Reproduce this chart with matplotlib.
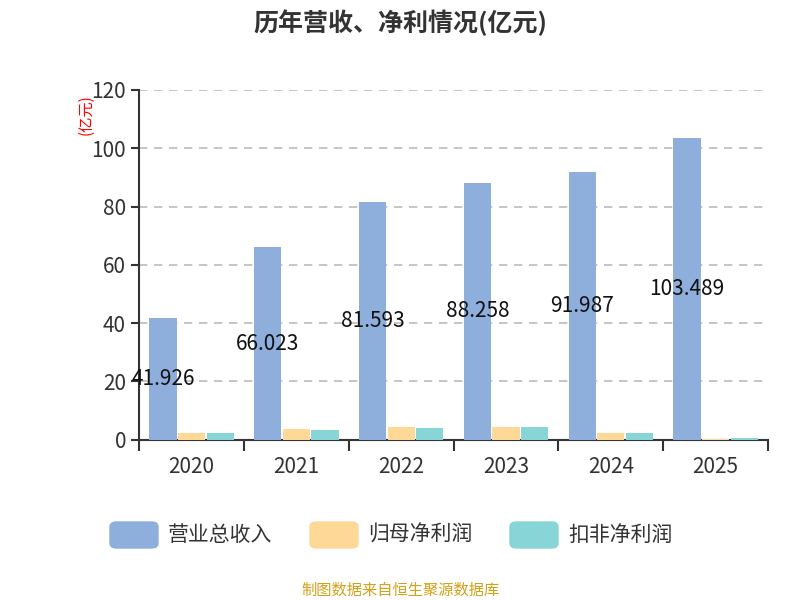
import matplotlib
matplotlib.use('Agg')
import matplotlib.pyplot as plt
import numpy as np

plt.rcParams['font.family'] = ['Noto Sans CJK SC', 'DejaVu Sans']

years = ['2020', '2021', '2022', '2023', '2024', '2025']
revenue = [41.926, 66.023, 81.593, 88.258, 91.987, 103.489]
net_profit = [2.4, 3.7, 4.3, 4.4, 2.4, 0.3]
deducted_profit = [2.3, 3.5, 4.2, 4.3, 2.3, 0.7]

fig = plt.figure(figsize=(8, 6), dpi=100)
ax = fig.add_axes([0.174, 0.267, 0.786, 0.583])
x = np.arange(len(years))
w = 0.26
ax.bar(x - w*1.05, revenue, w, color='#8eaedb', zorder=3)
ax.bar(x, net_profit, w, color='#fed897', zorder=3)
ax.bar(x + w*1.05, deducted_profit, w, color='#88d5d8', zorder=3)
for xi, v in zip(x, revenue):
    ax.text(xi - w*1.05, v/2, f'{v:.3f}', ha='center', va='center', fontsize=15, color='#111111', zorder=4)

ax.set_xlim(-0.5, 5.5)
ax.set_ylim(0, 120)
ax.set_yticks(range(0, 121, 20))
ax.set_xticks(x)
ax.set_xticklabels(years)
ax.set_xticks(np.arange(-0.5, 6, 1), minor=True)
ax.tick_params(axis='x', which='major', length=0, labelsize=15, colors='#333333', pad=12)
ax.tick_params(axis='x', which='minor', length=8, width=1.5, color='#333333')
ax.tick_params(axis='y', labelsize=15, colors='#333333', length=6, width=1.5)
for s in ['top', 'right']:
    ax.spines[s].set_visible(False)
for s in ['left', 'bottom']:
    ax.spines[s].set_color('#333333')
    ax.spines[s].set_linewidth(1.5)
ax.yaxis.grid(True, linestyle=(0, (5, 4)), color='#bbbbbb', linewidth=1.2, zorder=0)
ax.text(-0.085, 0.93, '(亿元)', transform=ax.transAxes, rotation=90, color='red', fontsize=11, ha='center', va='center')

fig.text(0.5, 0.962, '历年营收、净利情况(亿元)', ha='center', va='center', fontsize=18, fontweight='bold', color='#333333')

from matplotlib.patches import FancyBboxPatch
labels = ['营业总收入', '归母净利润', '扣非净利润']
cols = ['#8eaedb', '#fed897', '#88d5d8']
xs = [110, 310, 510]
for xp, lab, c in zip(xs, labels, cols):
    fig.patches.append(FancyBboxPatch((xp/800, 1-548/600), 48/800, 26/600, boxstyle='round,pad=0,rounding_size=0.008',
                                      transform=fig.transFigure, color=c))
    fig.text((xp+58)/800, 1-535/600, lab, fontsize=15, color='#333333', va='center')

fig.text(0.5, 1-590/600, '制图数据来自恒生聚源数据库', ha='center', va='center', fontsize=11, color='#d4a017')
fig.savefig('out.png')
